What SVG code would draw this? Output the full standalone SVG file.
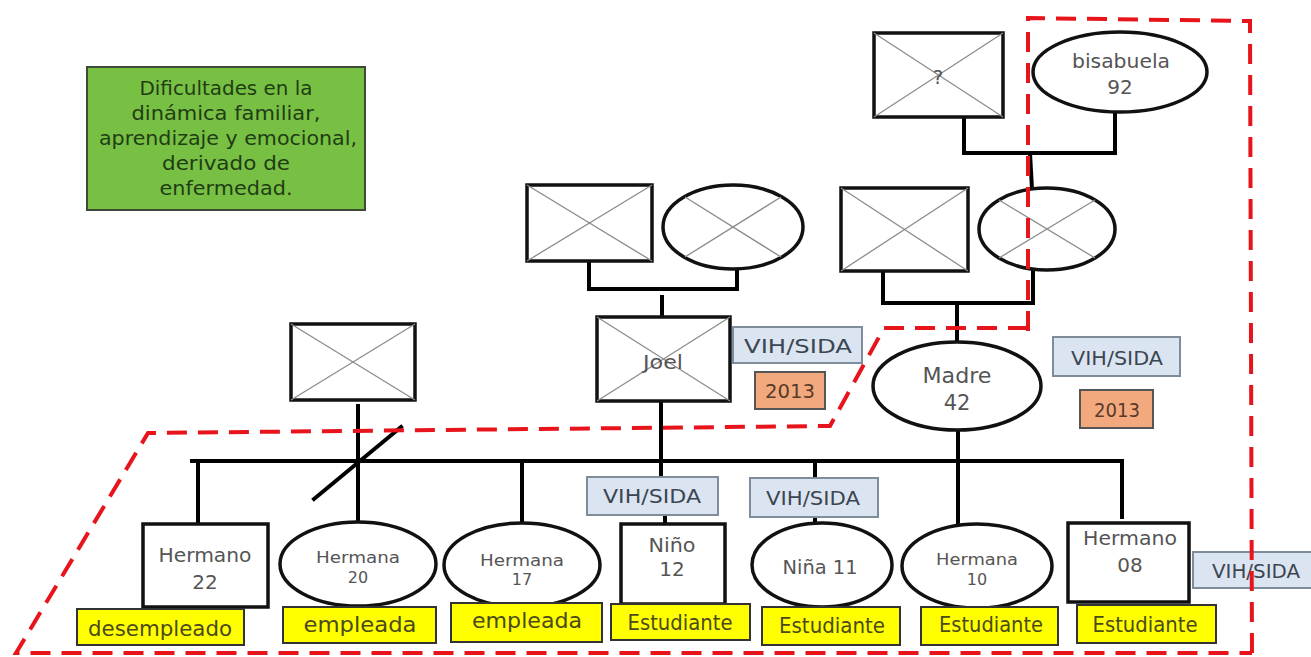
<svg xmlns="http://www.w3.org/2000/svg" width="1311" height="657" viewBox="0 0 1311 657">
<style>
.bg{fill:#ffffff}
.node{fill:#ffffff;stroke:#111;stroke-width:3.5}
.cross{stroke:#8c8c8c;stroke-width:1.3;fill:none}
.lbl{font-family:"DejaVu Sans","Liberation Sans",sans-serif;fill:#555;text-anchor:middle}
.vih{fill:#dbe5f1;stroke:#7f8c99;stroke-width:2}
.vihT{font-family:"DejaVu Sans","Liberation Sans",sans-serif;fill:#3c4652;font-size:20px;text-anchor:middle}
.yr{fill:#f2a97e;stroke:#555;stroke-width:2}
.yrT{font-family:"DejaVu Sans","Liberation Sans",sans-serif;fill:#5a3a2a;font-size:20px;text-anchor:middle}
.yel{fill:#ffff00;stroke:#333;stroke-width:2}
.yelT{font-family:"DejaVu Sans","Liberation Sans",sans-serif;fill:#4a4a1a;font-size:21px;text-anchor:middle}
.ln{stroke:#000;stroke-width:4;fill:none;stroke-linecap:square}
.red{stroke:#e8141c;stroke-width:4;fill:none;stroke-dasharray:20 11}
.note{fill:#78c043;stroke:#3d4a36;stroke-width:2}
.noteT{font-family:"DejaVu Sans","Liberation Sans",sans-serif;fill:#1f3d14;font-size:19px;text-anchor:middle}
</style>
<rect class="bg" x="0" y="0" width="1311" height="657"/>

<g id="note">
<rect class="note" x="87" y="67" width="278" height="143"/>
<text class="noteT" x="226" y="95" textLength="173" lengthAdjust="spacingAndGlyphs">Dificultades en la</text>
<text class="noteT" x="226" y="120" textLength="189" lengthAdjust="spacingAndGlyphs">dinámica familiar,</text>
<text class="noteT" x="228" y="145" textLength="258" lengthAdjust="spacingAndGlyphs">aprendizaje y emocional,</text>
<text class="noteT" x="226" y="170" textLength="128" lengthAdjust="spacingAndGlyphs">derivado de</text>
<text class="noteT" x="226" y="195" textLength="133" lengthAdjust="spacingAndGlyphs">enfermedad.</text>
</g>

<g id="connectors">
<polyline class="ln" points="964,112 964,153 1115,153 1115,112"/>
<line class="ln" x1="1030" y1="153" x2="1032" y2="189"/>
<polyline class="ln" points="883,271 883,303 1033,303 1033,269"/>
<line class="ln" x1="957" y1="303" x2="957" y2="342"/>
<polyline class="ln" points="589,261 589,289 737,289 737,269"/>
<line class="ln" x1="662" y1="297" x2="662" y2="316"/>
<line class="ln" x1="661" y1="401" x2="661" y2="477"/>
<line class="ln" x1="665" y1="515" x2="665" y2="524"/>
<line class="ln" x1="958" y1="430" x2="958" y2="524"/>
<line class="ln" x1="192" y1="461" x2="1122" y2="461"/>
<line class="ln" x1="198" y1="461" x2="198" y2="524"/>
<line class="ln" x1="522" y1="461" x2="522" y2="523"/>
<line class="ln" x1="815" y1="461" x2="815" y2="478"/>
<line class="ln" x1="815" y1="517" x2="815" y2="523"/>
<line class="ln" x1="1122" y1="461" x2="1122" y2="517"/>
<line class="ln" x1="358" y1="406" x2="358" y2="522"/>
<line class="ln" x1="314" y1="499" x2="401" y2="427"/>
</g>

<g id="great-grandfather">
<rect class="node" x="874" y="33" width="129" height="84"/>
<line class="cross" x1="874" y1="33" x2="1003" y2="117"/>
<line class="cross" x1="1003" y1="33" x2="874" y2="117"/>
<text class="lbl" x="938" y="84" font-size="20">?</text>
</g>

<g id="bisabuela">
<ellipse class="node" cx="1120" cy="72" rx="87" ry="40"/>
<text class="lbl" x="1121" y="68" font-size="20" textLength="98" lengthAdjust="spacingAndGlyphs">bisabuela</text>
<text class="lbl" x="1120" y="94" font-size="20">92</text>
</g>

<g id="paternal-grandfather">
<rect class="node" x="527" y="185" width="125" height="76"/>
<line class="cross" x1="527" y1="185" x2="652" y2="261"/>
<line class="cross" x1="652" y1="185" x2="527" y2="261"/>
</g>

<g id="paternal-grandmother">
<ellipse class="node" cx="733" cy="227" rx="70" ry="42"/>
<line class="cross" x1="685" y1="197" x2="781" y2="257"/>
<line class="cross" x1="781" y1="197" x2="685" y2="257"/>
</g>

<g id="maternal-grandfather">
<rect class="node" x="841" y="188" width="127" height="83"/>
<line class="cross" x1="841" y1="188" x2="968" y2="271"/>
<line class="cross" x1="968" y1="188" x2="841" y2="271"/>
</g>

<g id="maternal-grandmother">
<ellipse class="node" cx="1047" cy="229" rx="68" ry="41"/>
<line class="cross" x1="999" y1="200" x2="1095" y2="258"/>
<line class="cross" x1="1095" y1="200" x2="999" y2="258"/>
</g>

<g id="joel">
<rect class="node" x="597" y="317" width="133" height="84"/>
<line class="cross" x1="597" y1="317" x2="730" y2="401"/>
<line class="cross" x1="730" y1="317" x2="597" y2="401"/>
<text class="lbl" x="663" y="369" font-size="20" textLength="40" lengthAdjust="spacingAndGlyphs">Joel</text>
</g>

<g id="joel-vih">
<rect class="vih" x="733" y="327" width="129" height="36"/>
<text class="vihT" x="798" y="353" textLength="108" lengthAdjust="spacingAndGlyphs">VIH/SIDA</text>
</g>
<g id="joel-year">
<rect class="yr" x="755" y="372" width="70" height="37"/>
<text class="yrT" x="790" y="398" textLength="50" lengthAdjust="spacingAndGlyphs">2013</text>
</g>

<g id="left-father">
<rect class="node" x="291" y="324" width="124" height="76"/>
<line class="cross" x1="291" y1="324" x2="415" y2="400"/>
<line class="cross" x1="415" y1="324" x2="291" y2="400"/>
</g>

<g id="madre">
<ellipse class="node" cx="957" cy="386" rx="84" ry="44"/>
<text class="lbl" x="957" y="383" font-size="21" textLength="69" lengthAdjust="spacingAndGlyphs">Madre</text>
<text class="lbl" x="957" y="410" font-size="21">42</text>
</g>
<g id="madre-vih">
<rect class="vih" x="1053" y="337" width="127" height="39"/>
<text class="vihT" x="1117" y="365" textLength="92" lengthAdjust="spacingAndGlyphs">VIH/SIDA</text>
</g>
<g id="madre-year">
<rect class="yr" x="1080" y="390" width="73" height="38"/>
<text class="yrT" x="1117" y="417" textLength="46" lengthAdjust="spacingAndGlyphs">2013</text>
</g>

<g id="hermano22">
<rect class="node" x="143" y="524" width="125" height="83"/>
<text class="lbl" x="205" y="562" font-size="19" textLength="93" lengthAdjust="spacingAndGlyphs">Hermano</text>
<text class="lbl" x="205" y="589" font-size="20">22</text>
</g>
<g id="hermana20">
<ellipse class="node" cx="358" cy="564" rx="78" ry="42"/>
<text class="lbl" x="358" y="563" font-size="15" textLength="84" lengthAdjust="spacingAndGlyphs">Hermana</text>
<text class="lbl" x="358" y="583" font-size="16">20</text>
</g>
<g id="hermana17">
<ellipse class="node" cx="522" cy="565" rx="78" ry="42"/>
<text class="lbl" x="522" y="566" font-size="16" textLength="84" lengthAdjust="spacingAndGlyphs">Hermana</text>
<text class="lbl" x="522" y="585" font-size="16">17</text>
</g>
<g id="nino12">
<rect class="node" x="621" y="524" width="104" height="80"/>
<text class="lbl" x="672" y="552" font-size="20" textLength="47" lengthAdjust="spacingAndGlyphs">Niño</text>
<text class="lbl" x="672" y="576" font-size="20">12</text>
</g>
<g id="nino-vih">
<rect class="vih" x="587" y="477" width="131" height="38"/>
<text class="vihT" x="652" y="503" textLength="98" lengthAdjust="spacingAndGlyphs">VIH/SIDA</text>
</g>
<g id="nina11">
<ellipse class="node" cx="822" cy="565" rx="70" ry="42"/>
<text class="lbl" x="820" y="574" font-size="20" textLength="75" lengthAdjust="spacingAndGlyphs">Niña 11</text>
</g>
<g id="nina-vih">
<rect class="vih" x="750" y="478" width="128" height="39"/>
<text class="vihT" x="813" y="505" textLength="94" lengthAdjust="spacingAndGlyphs">VIH/SIDA</text>
</g>
<g id="hermana10">
<ellipse class="node" cx="977" cy="566" rx="75" ry="42"/>
<text class="lbl" x="977" y="565" font-size="16" textLength="82" lengthAdjust="spacingAndGlyphs">Hermana</text>
<text class="lbl" x="977" y="585" font-size="16">10</text>
</g>
<g id="hermano08">
<rect class="node" x="1068" y="523" width="121" height="79"/>
<text class="lbl" x="1130" y="545" font-size="19" textLength="94" lengthAdjust="spacingAndGlyphs">Hermano</text>
<text class="lbl" x="1130" y="572" font-size="20">08</text>
</g>
<g id="hermano08-vih">
<rect class="vih" x="1193" y="552" width="125" height="36"/>
<text class="vihT" x="1256" y="578" textLength="88" lengthAdjust="spacingAndGlyphs">VIH/SIDA</text>
</g>

<g id="occupations">
<rect class="yel" x="77" y="609" width="167" height="36"/>
<text class="yelT" x="160" y="636" textLength="144" lengthAdjust="spacingAndGlyphs">desempleado</text>
<rect class="yel" x="283" y="607" width="153" height="36"/>
<text class="yelT" x="360" y="632" textLength="113" lengthAdjust="spacingAndGlyphs">empleada</text>
<rect class="yel" x="451" y="603" width="151" height="39"/>
<text class="yelT" x="527" y="628" textLength="110" lengthAdjust="spacingAndGlyphs">empleada</text>
<rect class="yel" x="611" y="604" width="139" height="36"/>
<text class="yelT" x="680" y="630" textLength="105" lengthAdjust="spacingAndGlyphs">Estudiante</text>
<rect class="yel" x="762" y="607" width="138" height="38"/>
<text class="yelT" x="832" y="633" textLength="106" lengthAdjust="spacingAndGlyphs">Estudiante</text>
<rect class="yel" x="921" y="607" width="137" height="38"/>
<text class="yelT" x="991" y="632" textLength="104" lengthAdjust="spacingAndGlyphs">Estudiante</text>
<rect class="yel" x="1077" y="605" width="139" height="38"/>
<text class="yelT" x="1145" y="632" textLength="105" lengthAdjust="spacingAndGlyphs">Estudiante</text>
</g>

<g id="boundary">
<polyline class="red" points="1028,331 1028,18 1250,21 1252,660"/>
<polyline class="red" points="1028,328 884,328 830,426 148,433 16,653 1252,653"/>
</g>
</svg>
